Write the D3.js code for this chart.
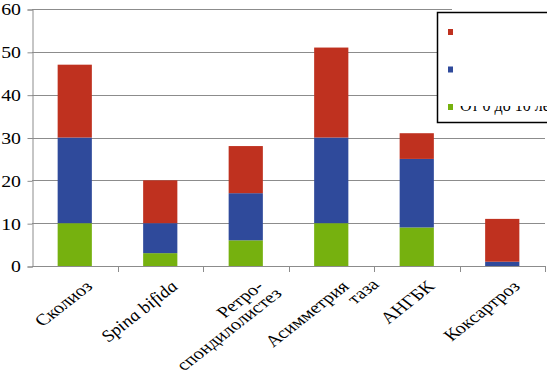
<!DOCTYPE html>
<html>
<head>
<meta charset="utf-8">
<script src="https://cdn.jsdelivr.net/npm/d3@7"></script>
<style>
  body { margin: 0; background: #fff; }
</style>
</head>
<body>
<div id="chart"></div>
<script>
// categories (multi-line labels as arrays of lines)
let categories = ['Сколиоз', 'Spina bifida', 'Ретро-спондилолистез', 'Асимметрия таза', 'АНГБК', 'Коксартроз'];
let categoryLines = [['Сколиоз'], ['Spina bifida'], ['Ретро-', 'спондилолистез'], ['Асимметрия', 'таза'], ['АНГБК'], ['Коксартроз']];
let italicCategories = ['Spina bifida'];

// stacked series, bottom to top
let age0to10 = [10, 3, 6, 10, 9, 0];
let ageMiddle = [20, 7, 11, 20, 16, 1];
let ageTop = [17, 10, 11, 21, 6, 10];

let seriesKeys = ['age0to10', 'ageMiddle', 'ageTop'];
let seriesColors = ['#76b10f', '#2f4a9b', '#bf311f'];
let legendLabels = ['От 0 до 10 лет', '', '']; // upper legend labels are not legible in the source

let yTicks = [0, 10, 20, 30, 40, 50, 60];

const serif = 'Liberation Serif';
const tickStretch = 1.2;  // source picture is widened horizontally
const labelStretch = 1.28;

let width = 547, height = 375,
    margin = {left: 32, top: 9, right: 2, bottom: 109},
    plotRight = width - margin.right,
    plotBottom = height - margin.bottom;

let svg = d3.select('#chart').append('svg')
    .attr('width', width)
    .attr('height', height)
    .attr('font-family', serif);

let xScale = d3.scaleBand()
    .domain(categories)
    .range([margin.left, plotRight])
    .paddingInner(0.6)
    .paddingOuter(0.3);

let yScale = d3.scaleLinear()
    .domain([0, 60])
    .range([plotBottom, margin.top]);

let rows = categories.map((c, i) => ({
    cat: c,
    age0to10: age0to10[i],
    ageMiddle: ageMiddle[i],
    ageTop: ageTop[i]
}));

let stacked = d3.stack().keys(seriesKeys)(rows);

// gridlines
svg.append('g')
    .selectAll('line')
    .data(yTicks.slice(1))
    .join('line')
    .attr('x1', margin.left)
    .attr('x2', plotRight)
    .attr('y1', d => Math.round(yScale(d)) + 0.5)
    .attr('y2', d => Math.round(yScale(d)) + 0.5)
    .attr('stroke', '#8c8c8c')
    .attr('stroke-width', 1);

// bars
svg.append('g')
    .selectAll('g')
    .data(stacked)
    .join('g')
    .attr('fill', (d, i) => seriesColors[i])
    .selectAll('rect')
    .data(d => d)
    .join('rect')
    .attr('x', d => xScale(d.data.cat))
    .attr('width', xScale.bandwidth())
    .attr('y', d => yScale(d[1]))
    .attr('height', d => yScale(d[0]) - yScale(d[1]));

// y axis
let yAxis = svg.append('g')
    .attr('transform', `translate(${margin.left + 0.5}, 0.5)`)
    .call(d3.axisLeft(yScale).tickValues(yTicks).tickSize(5).tickFormat(d3.format('d')));
yAxis.attr('font-family', serif).attr('font-size', 16.5);
yAxis.select('.domain').attr('stroke', '#8c8c8c');
yAxis.selectAll('.tick line').attr('stroke', '#8c8c8c');
yAxis.selectAll('.tick text')
    .attr('x', 0)
    .attr('fill', '#000')
    .attr('dy', '0.33em')
    .attr('transform', `translate(-11.5, 0) scale(${tickStretch}, 1)`);

// x axis line and boundary ticks
let step = xScale.step();
let boundaries = d3.range(categories.length + 1).map(i => margin.left + i * step);
let xAxisG = svg.append('g');
xAxisG.append('line')
    .attr('x1', margin.left)
    .attr('x2', plotRight)
    .attr('y1', plotBottom + 0.5)
    .attr('y2', plotBottom + 0.5)
    .attr('stroke', '#8c8c8c');
xAxisG.selectAll('.bt')
    .data(boundaries.slice(1))
    .join('line')
    .attr('class', 'bt')
    .attr('x1', d => Math.round(d) + 0.5)
    .attr('x2', d => Math.round(d) + 0.5)
    .attr('y1', plotBottom)
    .attr('y2', plotBottom + 6)
    .attr('stroke', '#8c8c8c');

// rotated category labels
let wrapShift = {'спондилолистез': 5, 'таза': 18};
let labels = svg.append('g')
    .attr('font-size', 16)
    .selectAll('g')
    .data(categories)
    .join('g')
    .attr('transform', d => `translate(${xScale(d) + xScale.bandwidth() / 2 + 19}, ${plotBottom + 21.5})`);

labels.append('text')
    .attr('transform', `scale(${labelStretch}, 1) rotate(-45)`)
    .attr('text-anchor', 'end')
    .attr('font-style', d => italicCategories.includes(d) ? 'italic' : 'normal')
    .each(function (d, i) {
        let t = d3.select(this);
        categoryLines[i].forEach((line, j) => {
            t.append('tspan')
                .attr('x', wrapShift[line] || 0)
                .attr('y', j * 15)
                .text(line);
        });
    });

// legend
let legend = svg.append('g');
legend.append('rect')
    .attr('x', 452).attr('y', 2)
    .attr('width', 100).attr('height', 12)
    .attr('fill', '#fff');
legend.append('rect')
    .attr('x', 437.5).attr('y', 12.5)
    .attr('width', 130).attr('height', 110)
    .attr('fill', '#fff')
    .attr('stroke', '#000')
    .attr('stroke-width', 1.5);

let legendOrder = [2, 1, 0];
legend.selectAll('.mk')
    .data(legendOrder)
    .join('rect')
    .attr('class', 'mk')
    .attr('x', 448)
    .attr('y', (d, i) => 29 + i * 37.5)
    .attr('width', 5)
    .attr('height', 6)
    .attr('fill', d => seriesColors[d]);

svg.append('defs').append('clipPath')
    .attr('id', 'legClip')
    .append('rect')
    .attr('x', 440).attr('y', 106)
    .attr('width', 120).attr('height', 14);

legend.append('g')
    .attr('clip-path', 'url(#legClip)')
    .attr('font-size', 16)
    .selectAll('text')
    .data(legendOrder)
    .join('text')
    .attr('x', 460)
    .attr('y', (d, i) => 36 + i * 37.5)
    .text(d => legendLabels[d]);
</script>
</body>
</html>
